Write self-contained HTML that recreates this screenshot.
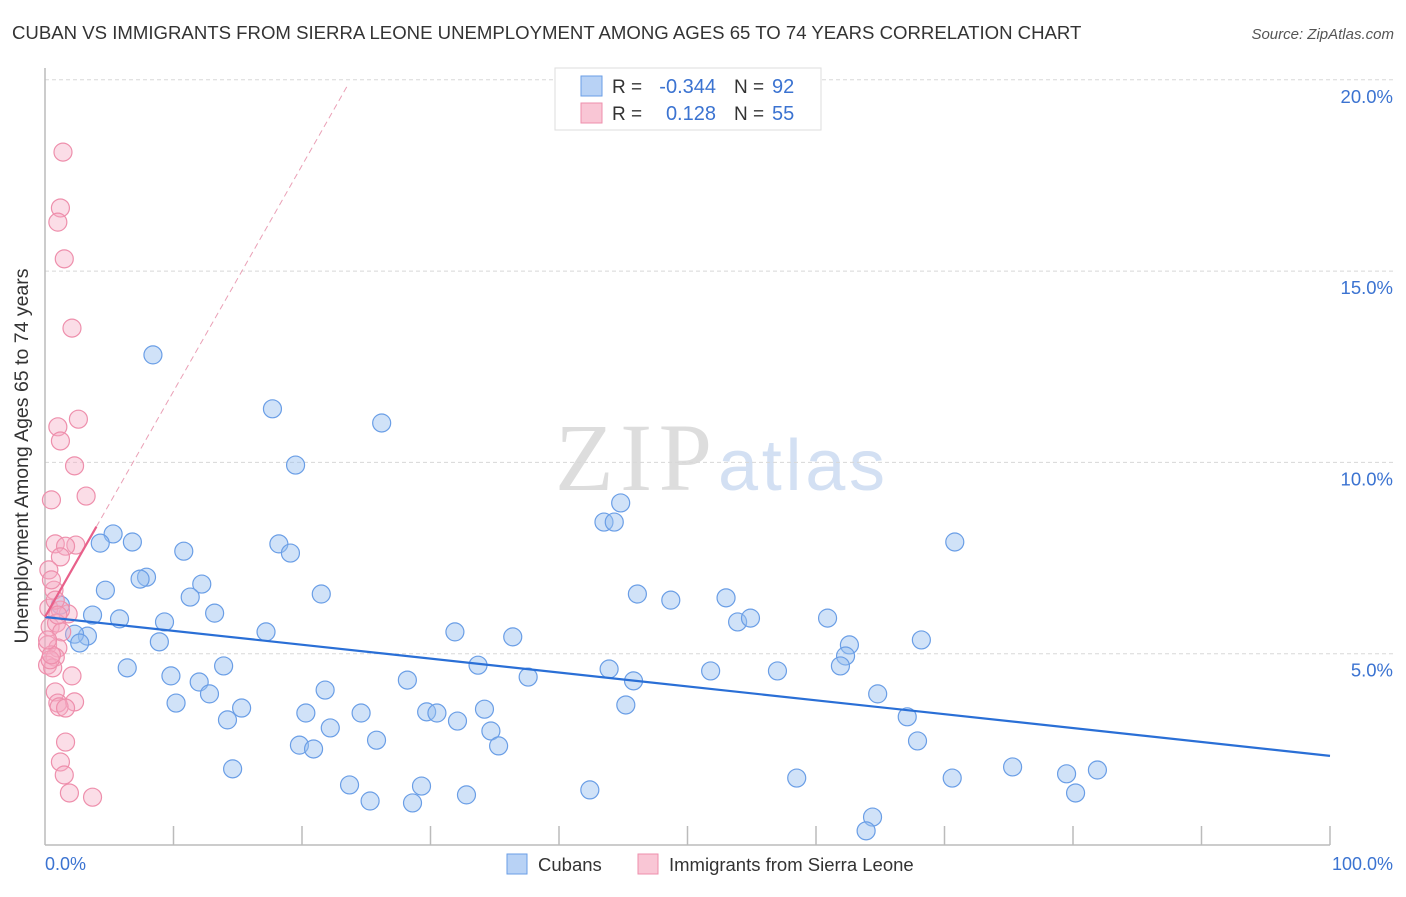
<!DOCTYPE html>
<html><head><meta charset="utf-8"><style>
body{margin:0;background:#fff;font-family:"Liberation Sans",sans-serif;}
svg text{font-family:"Liberation Sans",sans-serif;}
</style></head><body>
<svg id="chart" width="1406" height="892" viewBox="0 0 1406 892" xmlns="http://www.w3.org/2000/svg">
<text x="12" y="39" font-size="18.6" fill="#333">CUBAN VS IMMIGRANTS FROM SIERRA LEONE UNEMPLOYMENT AMONG AGES 65 TO 74 YEARS CORRELATION CHART</text>
<text x="1394" y="39" font-size="15" fill="#555" font-style="italic" text-anchor="end">Source: ZipAtlas.com</text>
<g>
<text x="712" y="490" font-size="96" fill="#ddd" text-anchor="end" style="font-family:'Liberation Serif',serif" textLength="157">ZIP</text>
<text x="718" y="490" font-size="72" fill="#d3e0f3" textLength="167">atlas</text>
</g>
<g id="grid"></g>
<g id="axes"></g>
<g id="pts"></g>
<g id="trend"></g>
<text x="28" y="456" font-size="19.5" fill="#333" text-anchor="middle" transform="rotate(-90 28 456)">Unemployment Among Ages 65 to 74 years</text>
<text x="45" y="870" font-size="18" fill="#3b73d1">0.0%</text>
<text x="1393" y="870" font-size="18" fill="#3b73d1" text-anchor="end">100.0%</text>
<g>
<rect x="555" y="68" width="266" height="62" fill="#fff" stroke="#ddd"/>
<rect x="581" y="76" width="21" height="20" fill="#b8d2f5" stroke="#6a9ee6"/>
<rect x="581" y="103" width="21" height="20" fill="#f9c6d5" stroke="#ee8fac"/>
<text x="612" y="93" font-size="19" fill="#333">R =</text>
<text x="716" y="93" font-size="20" fill="#3b73d1" text-anchor="end">-0.344</text>
<text x="734" y="93" font-size="19" fill="#333">N =</text>
<text x="772" y="93" font-size="20" fill="#3b73d1">92</text>
<text x="612" y="120" font-size="19" fill="#333">R =</text>
<text x="716" y="120" font-size="20" fill="#3b73d1" text-anchor="end">0.128</text>
<text x="734" y="120" font-size="19" fill="#333">N =</text>
<text x="772" y="120" font-size="20" fill="#3b73d1">55</text>
</g>
<g>
<rect x="507" y="854" width="20" height="20" fill="#b8d2f5" stroke="#6a9ee6"/>
<text x="538" y="871" font-size="18.5" fill="#333">Cubans</text>
<text x="669" y="871" font-size="18.5" fill="#333">Immigrants from Sierra Leone</text>
<rect x="638" y="854" width="20" height="20" fill="#f9c6d5" stroke="#ee8fac"/>
</g>
</svg>
<script>
const yTicks=[5,10,15,20];
const yTickLabels=["5.0%","10.0%","15.0%","20.0%"];
const xTickVals=[10,20,30,40,50,60,70,80,90,100];
const cubanX=[8.4,17.7,26.2,19.5,44.8,43.5,44.3,5.3,4.3,6.8,18.2,19.1,10.8,70.8,7.9,7.4,12.2,4.7,11.3,21.5,46.1,48.7,53.0,3.7,5.8,13.2,9.3,53.9,54.9,60.9,1.2,17.2,31.9,36.4,3.3,2.3,2.7,8.9,62.6,68.2,62.3,33.7,6.4,13.9,43.9,51.8,57.0,61.9,9.8,37.6,45.8,12.0,28.2,21.8,12.8,64.8,10.2,15.3,20.3,24.6,29.7,30.5,34.2,45.2,14.2,32.1,67.1,22.2,34.7,25.8,19.8,20.9,35.3,67.9,14.6,75.3,58.5,70.6,79.5,81.9,23.7,29.3,42.4,80.2,25.3,28.6,32.8,64.4,63.9];
const cubanY=[12.81,11.40,11.03,9.93,8.94,8.44,8.44,8.13,7.89,7.92,7.87,7.63,7.68,7.92,7.00,6.95,6.82,6.66,6.48,6.56,6.56,6.40,6.46,6.01,5.91,6.06,5.83,5.83,5.93,5.93,6.27,5.57,5.57,5.44,5.46,5.51,5.28,5.31,5.23,5.36,4.94,4.70,4.63,4.68,4.60,4.55,4.55,4.68,4.42,4.39,4.29,4.26,4.31,4.05,3.95,3.95,3.71,3.58,3.45,3.45,3.48,3.45,3.55,3.66,3.27,3.24,3.35,3.06,2.98,2.74,2.61,2.51,2.59,2.72,1.99,2.04,1.75,1.75,1.86,1.96,1.57,1.54,1.44,1.36,1.15,1.10,1.31,0.73,0.37];
const sierraX=[1.4,1.2,1.0,1.5,2.1,2.6,1.0,1.2,2.3,3.2,0.5,0.8,2.4,1.6,1.2,0.3,0.7,0.3,1.8,1.2,0.4,0.9,1.3,0.2,1.0,0.8,0.2,0.6,2.1,0.8,1.0,2.3,1.1,1.6,1.6,1.2,1.5,1.9,3.7,0.4,0.5,0.2,0.8,1.0,0.5];
const sierraY=[18.11,16.65,16.28,15.32,13.51,11.13,10.93,10.56,9.91,9.12,9.02,7.87,7.84,7.81,7.53,7.19,6.66,6.19,6.04,6.14,5.70,5.80,5.57,5.23,5.15,4.91,4.70,4.63,4.42,4.00,3.71,3.74,3.61,3.58,2.69,2.17,1.83,1.36,1.25,4.84,4.97,5.36,6.40,6.01,6.93];
const cubanTrend=[5.96,-0.0363];
const sierraTrend=[5.96,0.59];
const sierraSolidEnd=4.0, sierraDashEnd=23.6;

const NS="http://www.w3.org/2000/svg";
const X0=45,X1=1330,Y0=845,YPER=38.26;
const sx=v=>X0+(X1-X0)*v/100;
const sy=v=>Y0-YPER*v;
function mk(tag,attrs,parent){const e=document.createElementNS(NS,tag);for(const k in attrs)e.setAttribute(k,attrs[k]);parent.appendChild(e);return e;}
const grid=document.getElementById('grid'),axes=document.getElementById('axes'),pts=document.getElementById('pts'),trend=document.getElementById('trend');
yTicks.forEach((t,i)=>{
  const l=mk('line',{x1:X0,x2:1393,y1:sy(t),y2:sy(t),stroke:'#d8d8d8','stroke-dasharray':'4,3'},grid);
  
  
  const tx=mk('text',{x:1393,y:sy(t)+23,'font-size':18.5,fill:'#3b73d1','text-anchor':'end'},grid);
  tx.textContent=yTickLabels[i];
  
  
});
const ya=mk('line',{x1:X0,x2:X0,y1:68,y2:Y0,stroke:'#bbb','stroke-width':1.5},axes);


const xa=mk('line',{x1:X0,x2:X1,y1:Y0,y2:Y0,stroke:'#bbb','stroke-width':1.5},axes);


xTickVals.forEach(t=>{
  const l=mk('line',{x1:sx(t),x2:sx(t),y1:826,y2:Y0,stroke:'#bbb','stroke-width':1.5},axes);
  
  
});
cubanX.forEach((x,i)=>{
  const c=mk('circle',{cx:sx(x),cy:sy(cubanY[i]),r:9,fill:'rgba(150,190,240,0.45)',stroke:'#6a9ee6','stroke-width':1.2},pts);
  
  
});
sierraX.forEach((x,i)=>{
  const c=mk('circle',{cx:sx(x),cy:sy(sierraY[i]),r:9,fill:'rgba(245,170,195,0.4)',stroke:'#ee8fac','stroke-width':1.2},pts);
  
  
});
const ct=mk('line',{x1:sx(0),y1:sy(cubanTrend[0]),x2:sx(100),y2:sy(cubanTrend[0]+cubanTrend[1]*100),stroke:'#2a6fd6','stroke-width':2.2},trend);


const sd=mk('line',{x1:sx(sierraSolidEnd),y1:sy(sierraTrend[0]+sierraTrend[1]*sierraSolidEnd),x2:sx(sierraDashEnd),y2:sy(sierraTrend[0]+sierraTrend[1]*sierraDashEnd),stroke:'#eaa0b6','stroke-width':1,'stroke-dasharray':'6,4'},trend);


const st=mk('line',{x1:sx(0),y1:sy(sierraTrend[0]),x2:sx(sierraSolidEnd),y2:sy(sierraTrend[0]+sierraTrend[1]*sierraSolidEnd),stroke:'#e8608a','stroke-width':2.2},trend);


</script>
</body></html>
